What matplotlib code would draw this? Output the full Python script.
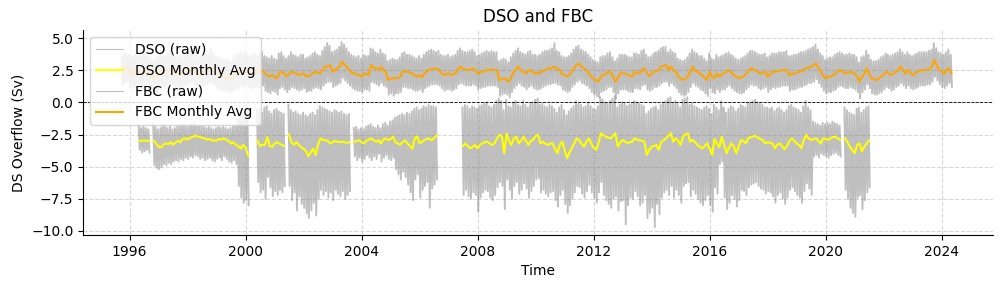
import numpy as np
import pandas as pd
import matplotlib
matplotlib.use('Agg')
import matplotlib.pyplot as plt
import matplotlib.dates as mdates

N = None

# monthly timeline, Oct 1995 .. May 2024
months = pd.date_range('1995-10-01', '2024-05-01', freq='MS')

# FBC monthly average (Sv)
fbc_avg = [
    2.50, 2.70, 2.77,
    2.40, 2.20, 2.30, 2.50, 2.35, 2.25, 2.40, 2.50, 2.20, 2.00, 1.95, 1.90,
    2.20, 2.50, 2.40, 2.25, 2.40, 2.50, 2.45, 2.30, 2.15, 2.20, 2.35, 2.40,
    2.50, 2.65, 2.75, 2.60, 2.30, 2.15, 2.30, 2.50, 2.55, 2.60, 2.70, 2.50,
    2.30, 2.20, 2.10, 2.00, 1.95, 1.90, 1.88, 2.00, 2.20, 2.30, 2.50, 2.40,
    2.50, 2.40, 2.25, 2.30, 2.35, 2.30, 2.40, 2.50, 2.25, 2.10, 2.00, 2.12,
    1.95, 1.87, 2.30, 2.38, 2.25, 2.00, 2.20, 2.38, 2.30, 2.25, 2.12, 2.20,
    2.25, 2.00, 2.05, 2.12, 2.30, 2.38, 2.30, 2.25, 2.50, 2.77, 2.80, 2.90,
    2.38, 2.50, 2.64, 2.77, 3.16, 2.90, 2.77, 2.51, 2.30, 2.25, 2.15, 2.12,
    2.00, 2.25, 2.20, 2.12, 2.90, 2.70, 2.64, 2.51, 2.77, 2.50, 2.38, 1.74,
    1.85, 1.87, 1.90, 1.87, 2.00, 2.38, 2.40, 2.38, 2.30, 2.25, 2.10, 2.00,
    2.12, 1.95, 2.25, 2.40, 2.51, 2.60, 2.64, 2.60, 2.56, 2.30, 2.12, 2.20,
    2.25, 2.12, 2.20, 2.25, 2.60, 2.77, 2.60, 2.56, 2.51, 2.55, 2.64, 2.50,
    2.25, 2.30, 2.38, 2.45, 2.51, 2.56, 2.55, 2.51, 2.50, 1.74, 1.80, 1.87,
    1.75, 1.60, 2.00, 2.38, 2.60, 2.77, 2.50, 2.38, 2.25, 2.45, 2.51, 2.30,
    2.25, 2.25, 2.30, 2.45, 2.51, 2.60, 2.64, 2.70, 2.77, 2.60, 2.51, 2.20,
    2.12, 2.05, 2.10, 2.40, 2.64, 2.90, 3.03, 2.77, 2.64, 2.50, 2.30, 2.00,
    1.80, 1.74, 1.60, 2.00, 2.10, 2.20, 2.35, 2.38, 2.00, 1.60, 1.90, 2.25,
    2.25, 2.25, 2.15, 2.05, 2.00, 2.38, 2.30, 2.25, 2.50, 2.64, 2.25, 2.05,
    2.20, 2.38, 2.45, 2.51, 2.77, 2.85, 2.90, 2.51, 2.77, 2.50, 2.38, 2.00,
    1.87, 1.74, 1.85, 2.00, 2.40, 2.77, 2.50, 2.38, 2.20, 2.12, 1.90, 1.74,
    2.38, 2.00, 1.87, 2.25, 2.00, 2.20, 2.25, 2.40, 2.51, 2.30, 2.12, 2.00,
    1.87, 1.95, 2.00, 2.20, 2.38, 2.64, 2.55, 2.51, 2.35, 2.25, 2.30, 2.38,
    2.00, 2.20, 2.38, 2.38, 2.40, 2.45, 2.51, 2.50, 2.51, 2.12, 2.20, 2.25,
    2.30, 2.38, 2.45, 2.51, 2.64, 2.70, 2.77, 2.90, 3.03, 2.70, 2.38, 2.10,
    1.87, 1.95, 2.00, 2.10, 2.25, 2.40, 2.51, 2.40, 2.25, 2.30, 2.38, 2.30,
    2.25, 2.00, 1.60, 2.00, 2.20, 2.64, 2.25, 1.87, 1.80, 1.74, 1.85, 2.00,
    2.20, 2.38, 2.25, 2.12, 2.25, 2.38, 2.50, 2.77, 2.50, 2.25, 2.51, 2.30,
    2.12, 2.25, 2.38, 2.45, 2.51, 2.50, 2.53, 2.56, 2.77, 3.29, 2.90, 2.51,
    2.40, 2.25, 2.50, 2.64, 2.25,
]

# FBC raw: monthly max and min of the daily record
fbc_hi = [
    3.6, 3.9, 3.8,
    3.7, 3.5, 3.6, 3.9, 3.7, 3.5, 3.8, 3.9, 3.6, 3.4, 3.3, 3.4,
    3.6, 3.9, 3.7, 3.6, 3.8, 4.0, 3.7, 3.6, 3.5, 3.6, 3.7, 3.8,
    3.9, 4.1, 4.2, 3.9, 3.6, 3.5, 3.7, 3.9, 4.0, 3.9, 4.2, 3.8,
    3.6, 3.5, 3.4, 3.3, 3.4, 3.3, 3.2, 3.4, 3.6, 3.7, 3.9, 3.8,
    3.9, 3.7, 3.6, 3.7, 3.8, 3.6, 3.8, 3.9, 3.6, 3.5, 3.4, 3.6,
    3.4, 3.3, 3.8, 3.9, 3.6, 3.4, 3.6, 3.9, 3.7, 3.6, 3.5, 3.7,
    3.7, 3.4, 3.5, 3.6, 3.8, 3.9, 3.7, 3.6, 4.0, 4.3, 4.6, 4.4,
    3.9, 4.0, 4.1, 4.3, 4.7, 4.5, 4.2, 3.9, 3.7, 3.6, 3.5, 3.6,
    3.4, 3.7, 3.6, 3.6, 4.2, 4.1, 3.9, 3.8, 4.1, 3.8, 3.7, 3.2,
    3.3, 3.4, 3.3, 3.3, 3.5, 3.8, 3.9, 3.7, 3.7, 3.6, 3.5, 3.4,
    3.6, 3.4, 3.7, 3.9, 4.0, 4.1, 4.0, 3.9, 4.0, 3.7, 3.6, 3.6,
    3.7, 3.5, 3.6, 3.7, 4.0, 4.2, 4.0, 3.9, 3.9, 4.0, 4.1, 3.9,
    3.6, 3.7, 3.8, 3.9, 4.0, 3.9, 4.0, 3.9, 3.9, 3.2, 3.3, 3.4,
    3.3, 3.1, 3.5, 3.8, 4.0, 4.2, 3.9, 3.8, 3.7, 3.9, 4.0, 3.7,
    3.7, 3.6, 3.7, 3.9, 4.0, 4.0, 4.1, 4.2, 4.6, 4.0, 3.9, 3.6,
    3.5, 3.5, 3.6, 3.8, 4.1, 4.3, 4.4, 4.1, 4.0, 3.9, 3.7, 3.5,
    3.3, 3.2, 3.1, 3.5, 3.6, 3.6, 3.8, 3.9, 3.5, 3.2, 3.4, 3.7,
    3.7, 3.7, 3.6, 3.5, 3.5, 3.8, 3.8, 3.7, 4.0, 4.1, 3.7, 3.5,
    3.6, 3.8, 3.9, 4.0, 4.2, 4.3, 4.3, 3.9, 4.1, 3.9, 3.8, 3.4,
    3.3, 3.2, 3.3, 3.5, 3.8, 4.1, 3.9, 3.8, 3.6, 3.6, 3.4, 3.2,
    3.8, 3.4, 3.3, 3.7, 3.5, 3.6, 3.7, 3.8, 3.9, 3.7, 3.6, 3.4,
    3.3, 3.4, 3.5, 3.6, 3.8, 4.0, 4.0, 3.9, 3.8, 3.7, 3.7, 3.8,
    3.5, 3.6, 3.8, 3.8, 3.8, 3.9, 3.9, 3.9, 4.0, 3.6, 3.6, 3.7,
    3.7, 3.8, 3.9, 3.9, 4.0, 4.1, 4.2, 4.3, 4.5, 4.1, 3.8, 3.6,
    3.3, 3.4, 3.5, 3.5, 3.7, 3.8, 3.9, 3.8, 3.7, 3.7, 3.8, 3.7,
    3.7, 3.5, 3.1, 3.5, 3.6, 4.0, 3.7, 3.3, 3.2, 3.2, 3.3, 3.5,
    3.6, 3.8, 3.7, 3.6, 3.7, 3.8, 3.9, 4.1, 3.9, 3.7, 3.9, 3.7,
    3.6, 3.7, 3.8, 3.9, 3.9, 3.9, 3.9, 4.0, 4.1, 4.6, 4.2, 3.9,
    3.8, 3.7, 3.9, 4.1, 3.7,
]
fbc_lo = [
    1.3, 1.5, 1.6,
    1.2, 1.1, 1.2, 1.4, 1.2, 1.1, 1.3, 1.4, 1.1, 0.9, 0.8, 0.8,
    1.1, 1.3, 1.2, 1.1, 1.2, 1.4, 1.3, 1.2, 1.0, 1.1, 1.2, 1.3,
    1.4, 1.5, 1.6, 1.4, 1.1, 1.0, 1.2, 1.3, 1.4, 1.5, 1.5, 1.3,
    1.1, 1.0, 0.9, 0.9, 0.8, 0.8, 0.7, 0.9, 1.0, 1.1, 1.3, 1.2,
    1.4, 1.2, 1.1, 1.1, 1.2, 1.1, 1.2, 1.3, 0.9, 0.8, 0.7, 0.9,
    0.8, 0.6, 1.1, 1.2, 1.0, 0.8, 1.0, 1.2, 1.1, 1.0, 0.9, 1.0,
    1.1, 0.8, 0.9, 0.9, 1.1, 1.2, 1.1, 1.0, 1.3, 1.5, 1.6, 1.6,
    1.2, 1.3, 1.4, 1.5, 1.9, 1.7, 1.5, 1.3, 1.1, 1.0, 0.9, 0.9,
    0.8, 1.0, 1.0, 0.9, 1.6, 1.5, 1.4, 1.3, 1.5, 1.3, 1.2, 0.6,
    0.7, 0.5, 0.7, 0.7, 0.8, 1.2, 1.2, 1.1, 1.1, 1.0, 0.9, 0.9,
    1.0, 0.8, 1.1, 1.2, 1.3, 1.4, 1.4, 1.4, 1.3, 1.1, 0.9, 1.0,
    1.0, 0.9, 1.0, 1.1, 1.4, 1.5, 1.4, 1.3, 1.3, 1.3, 1.4, 1.3,
    1.0, 1.1, 1.2, 1.2, 1.3, 1.3, 1.3, 1.3, 1.2, 0.5, 0.6, 0.7,
    0.6, 0.4, 0.8, 1.1, 1.3, 1.5, 1.3, 1.2, 1.0, 1.2, 1.3, 1.1,
    1.0, 1.0, 1.1, 1.2, 1.3, 1.4, 1.4, 1.5, 1.5, 1.4, 1.3, 1.0,
    0.9, 0.8, 0.9, 1.2, 1.4, 1.6, 1.7, 1.5, 1.4, 1.3, 1.1, 0.8,
    0.6, 0.5, 0.4, 0.8, 0.9, 1.0, 1.2, 1.2, 0.8, 0.3, 0.7, 1.0,
    1.0, 1.0, 0.9, 0.8, 0.8, 1.1, 1.1, 1.0, 1.3, 1.4, 1.0, 0.9,
    1.0, 1.2, 1.2, 1.3, 1.5, 1.6, 1.6, 1.3, 1.5, 1.3, 1.1, 0.8,
    0.6, 0.5, 0.6, 0.8, 1.2, 1.5, 1.3, 1.2, 1.0, 0.9, 0.7, 0.5,
    1.1, 0.8, 0.7, 1.0, 0.8, 1.0, 1.0, 1.2, 1.3, 1.1, 0.9, 0.8,
    0.7, 0.7, 0.8, 1.0, 1.2, 1.4, 1.3, 1.3, 1.1, 1.0, 1.1, 1.2,
    0.8, 1.0, 1.2, 1.1, 1.2, 1.2, 1.3, 1.3, 1.3, 0.9, 1.0, 1.0,
    1.1, 1.2, 1.2, 1.3, 1.4, 1.5, 1.5, 1.6, 1.8, 1.5, 1.2, 0.9,
    0.7, 0.8, 0.8, 0.9, 1.0, 1.2, 1.3, 1.2, 1.1, 1.1, 1.2, 1.1,
    1.0, 0.8, 0.3, 0.8, 1.0, 1.4, 1.1, 0.7, 0.6, 0.6, 0.7, 0.8,
    1.0, 1.2, 1.1, 0.9, 1.0, 1.2, 1.3, 1.5, 1.3, 1.1, 1.3, 1.1,
    1.0, 1.1, 1.2, 1.3, 1.3, 1.3, 1.4, 1.4, 1.6, 2.0, 1.7, 1.4,
    1.2, 1.1, 1.3, 1.5, 1.2,
]

# DSO monthly average (Sv), None = no data
dso_avg = [
    N, N, N,
    N, N, N, N, -3.00, -3.00, -2.95, -3.00, -3.00, N, -3.00, -3.20,
    -3.45, -3.50, -3.30, -3.20, -3.25, -3.10, -3.30, -3.10, -3.00, -3.10, -2.85, -2.80,
    -2.90, -2.75, -2.70, -2.60, -2.65, -2.70, -2.75, -2.80, -2.90, -2.85, -2.95, -3.00,
    -2.95, -2.85, -2.90, -2.80, -2.90, -3.00, -3.20, -3.10, -3.30, -3.40, -3.60, -3.30,
    -3.50, -4.15, N, N, N, -3.00, -3.40, -3.30, -3.30, -2.70, -3.40, -3.45,
    -3.20, -3.10, -3.20, -3.30, -3.40, N, -2.50, -3.10, -3.30, -3.10, -3.30, -3.50,
    -3.60, -3.80, -4.20, -3.90, -3.60, -4.10, -3.30, -2.80, -2.90, -2.95, -3.00, -3.20,
    -3.10, -3.00, -3.05, -3.10, -3.06, -3.10, -3.15, -3.10, N, -3.06, -3.00, -2.95,
    -3.10, -3.20, -3.00, -2.90, -2.80, -2.95, -3.06, -2.95, -3.20, -2.90, -2.80, -2.95,
    -2.85, -2.67, -3.10, -3.20, -3.30, -3.10, -2.95, -3.20, -3.40, -3.60, -2.80, -2.65,
    -3.20, -3.06, -2.95, -2.85, -2.80, -2.95, -2.80, -2.60, N, N, N, N,
    N, N, N, N, N, N, -3.40, -3.20, -3.40, -3.58, -3.45, -3.32,
    -3.58, -3.30, -3.19, -3.10, -3.06, -3.20, -3.32, -3.19, -2.80, -2.54, -2.62, -3.96,
    -2.41, -3.00, -3.32, -2.80, -2.67, -3.19, -3.00, -2.67, -3.00, -3.32, -3.00, -2.93,
    -2.60, -2.54, -3.19, -3.06, -3.20, -3.32, -3.20, -3.19, -3.58, -3.96, -3.30, -3.06,
    -3.70, -4.35, -3.90, -3.58, -3.20, -2.80, -2.93, -3.20, -3.45, -3.10, -2.80, -3.20,
    -3.50, -3.70, -3.19, -2.41, -2.55, -2.67, -2.75, -2.80, -2.60, -2.41, -3.45, -3.10,
    -2.93, -3.05, -3.19, -3.10, -3.06, -2.80, -2.90, -2.93, -3.00, -3.06, -4.09, -3.70,
    -3.45, -3.40, -3.32, -3.70, -3.06, -2.95, -2.80, -2.60, -2.41, -3.06, -2.80, -3.00,
    -3.32, -2.67, -2.50, -2.41, -3.06, -2.93, -3.10, -3.32, -3.45, -3.58, -3.40, -3.19,
    -3.60, -4.09, -2.85, -3.20, -3.50, -2.67, -3.30, -3.96, -3.50, -3.19, -3.45, -3.96,
    -3.40, -2.93, -3.00, -3.19, -2.80, -2.70, -2.65, -2.62, -2.75, -2.85, -2.93, -3.19,
    -3.10, -3.15, -3.19, -3.58, -3.30, -3.19, -3.40, -3.65, -3.40, -3.00, -2.80, -3.00,
    -3.20, -3.32, -3.58, -2.90, -2.54, -2.80, -2.93, -2.85, -2.80, -3.00, -3.19, -2.80,
    -2.85, -2.93, -2.80, -2.70, -2.67, -2.80, -2.93, N, -2.80, -3.10, -3.45, -3.70,
    -3.96, -3.30, -3.19, -3.83, -3.45, -3.19, -2.95, N, N, N, N, N,
] + [N] * 29

# DSO raw: monthly max (closest to zero) and min
dso_hi = [
    N, N, N,
    N, N, N, N, -1.8, -2.0, -1.9, -2.0, -2.1, N, -1.7, -1.9,
    -2.1, -2.0, -1.8, -1.9, -2.0, -1.9, -2.1, -2.0, -1.8, -1.9, -1.7, -1.8,
    -1.9, -1.8, -1.7, -1.6, -1.8, -1.9, -1.8, -1.9, -2.0, -1.9, -2.0, -2.1,
    -2.0, -1.9, -2.0, -1.9, -2.0, -2.1, -2.0, -1.9, -1.8, -1.3, -0.9, -0.8,
    -0.7, -1.0, N, N, N, -0.6, -0.5, -0.8, -0.4, -0.3, -0.7, -0.9,
    -0.6, -0.5, -0.7, -0.8, -0.9, N, -0.2, -0.6, -0.8, -0.7, -0.9, -1.0,
    -0.8, -1.0, -1.1, -0.9, -0.8, -1.0, -0.6, -0.3, -0.4, -0.5, -0.6, -0.7,
    -0.8, -0.6, -0.7, -0.8, -0.7, -0.9, -1.0, -0.9, N, -2.0, -1.9, -2.1,
    -2.0, -2.1, -1.9, -1.8, -1.7, -1.9, -2.0, -1.8, -2.0, -1.7, -1.6, -1.8,
    -1.5, -1.4, -1.2, -1.1, -1.0, -0.9, -1.0, -0.8, -0.9, -0.7, -0.5, -0.4,
    -0.6, -0.5, -0.3, -0.4, -0.2, -0.3, -0.3, -0.4, N, N, N, N,
    N, N, N, N, N, N, -0.4, -0.2, -0.3, -0.5, -0.3, -0.4,
    -0.5, -0.3, -0.2, -0.1, 0.0, -0.3, -0.4, -0.2, 0.1, 0.3, 0.1, -0.6,
    0.2, -0.3, -0.4, 0.0, 0.1, -0.2, -0.3, 0.1, -0.2, -0.4, -0.1, 0.0,
    0.2, 0.3, -0.2, -0.1, -0.3, -0.4, -0.2, -0.3, -0.5, -0.8, -0.4, -0.2,
    -0.6, -1.0, -0.7, -0.5, -0.3, 0.1, -0.1, -0.2, -0.4, -0.3, 0.0, -0.3,
    -0.5, -0.6, -0.3, 0.4, 0.2, 0.0, -0.1, 0.1, 0.3, 0.5, -0.4, -0.2,
    0.0, -0.1, -0.3, -0.2, -0.1, 0.1, 0.0, -0.1, -0.2, -0.3, -0.9, -0.7,
    -0.5, -0.4, -0.3, -0.6, -0.2, 0.0, 0.1, 0.3, 0.4, -0.1, 0.1, -0.1,
    -0.4, 0.2, 0.3, 0.4, -0.2, -0.1, -0.3, -0.4, -0.5, -0.6, -0.4, -0.3,
    -0.5, -0.9, -0.2, -0.4, -0.6, 0.1, -0.4, -0.8, -0.5, -0.3, -0.4, -0.7,
    -0.5, -0.2, -0.3, -0.4, -0.1, 0.0, 0.1, 0.2, 0.0, -0.1, -0.2, -0.4,
    -0.4, -0.5, -0.4, -0.7, -0.5, -0.4, -0.6, -0.8, -0.6, -0.3, -0.2, -0.4,
    -0.5, -0.6, -0.8, -0.3, 0.1, -0.4, -0.6, -1.5, -1.6, -1.7, -1.8, -1.6,
    -1.7, -1.6, -1.7, -1.5, -1.6, -1.7, -1.8, N, -0.4, -0.6, -0.8, -0.9,
    -1.0, -0.5, -0.4, -0.8, -0.6, -0.4, -0.3, N, N, N, N, N,
] + [N] * 29
dso_lo = [
    N, N, N,
    N, N, N, N, -3.7, -3.9, -3.8, -3.7, -3.9, N, -4.9, -5.1,
    -5.2, -5.0, -4.8, -4.9, -4.7, -4.8, -4.6, -4.5, -4.6, -4.4, -4.5, -4.3,
    -4.4, -4.2, -4.3, -4.1, -4.2, -4.4, -4.3, -4.5, -4.4, -4.3, -4.5, -4.6,
    -4.4, -4.3, -4.5, -4.2, -4.4, -4.6, -4.7, -4.5, -4.8, -6.5, -7.4, -7.8,
    -7.6, -8.0, N, N, N, -6.2, -7.0, -6.8, -7.5, -5.8, -6.6, -7.3,
    -6.9, -7.2, -6.8, -7.0, -6.5, N, -6.5, -7.6, -7.0, -8.4, -7.3, -7.9,
    -8.2, -8.6, -9.0, -8.4, -7.8, -8.8, -7.5, -6.8, -7.2, -6.9, -7.4, -7.0,
    -7.6, -6.8, -7.1, -7.3, -6.9, -7.5, -7.2, -6.9, N, -4.2, -4.5, -4.3,
    -4.6, -4.4, -4.1, -4.3, -4.5, -4.2, -4.4, -4.0, -4.6, -4.3, -4.1, -4.4,
    -4.5, -4.3, -5.2, -5.6, -6.0, -5.4, -5.8, -6.4, -7.0, -7.6, -6.0, -5.6,
    -7.4, -6.8, -6.5, -6.2, -8.2, -6.7, -6.4, -6.0, N, N, N, N,
    N, N, N, N, N, N, -7.2, -6.8, -7.3, -7.5, -7.0, -7.2,
    -8.5, -7.4, -7.0, -6.8, -6.9, -7.4, -7.6, -7.2, -6.6, -6.2, -6.5, -8.3,
    -6.0, -6.8, -7.5, -6.5, -6.2, -7.1, -6.8, -6.3, -6.7, -7.4, -6.9, -6.5,
    -6.0, -5.9, -7.0, -6.8, -7.1, -7.3, -7.0, -6.9, -7.6, -8.1, -7.2, -6.8,
    -7.9, -8.6, -8.0, -7.5, -7.0, -6.5, -6.6, -7.1, -7.4, -6.9, -6.4, -7.0,
    -7.4, -7.8, -7.0, -6.2, -7.2, -7.6, -7.9, -8.2, -7.5, -7.3, -8.4, -7.7,
    -7.6, -9.5, -8.0, -7.4, -7.5, -6.9, -7.3, -8.0, -7.8, -7.2, -9.0, -8.6,
    -8.2, -9.7, -7.9, -8.7, -7.4, -7.0, -6.8, -7.2, -6.5, -7.4, -6.8, -7.2,
    -7.8, -6.5, -6.3, -6.2, -7.3, -6.8, -7.1, -7.5, -7.8, -8.0, -7.6, -7.2,
    -8.0, -8.5, -6.6, -7.1, -4.8, -4.6, -7.4, -8.3, -7.8, -7.2, -7.5, -8.1,
    -7.6, -6.8, -6.9, -7.2, -6.6, -6.4, -6.3, -6.2, -6.5, -6.7, -6.8, -7.1,
    -6.9, -7.0, -7.3, -7.8, -7.2, -7.0, -7.5, -7.9, -7.4, -6.8, -6.6, -6.9,
    -7.2, -7.4, -7.8, -6.9, -6.3, -6.7, -7.2, -4.2, -4.1, -4.3, -4.0, -4.1,
    -4.2, -4.3, -4.1, -4.0, -3.9, -4.1, -4.2, N, -6.8, -7.5, -8.2, -8.6,
    -8.9, -7.4, -7.2, -8.3, -7.6, -7.0, -6.6, N, N, N, N, N,
] + [N] * 29


def raw_trace(hi, lo):
    # alternate monthly max/min so the raw record reads as a dense band
    hi = np.array(hi, dtype=float)
    lo = np.array(lo, dtype=float)
    t = np.empty(2 * len(months), dtype='datetime64[ns]')
    t[0::2] = (months - pd.Timedelta(days=7)).values
    t[1::2] = (months + pd.Timedelta(days=8)).values
    y = np.empty(2 * len(months))
    y[0::2] = hi
    y[1::2] = lo
    return t, y


fig, ax = plt.subplots(figsize=(10.02, 2.89), dpi=100)
fig.subplots_adjust(left=0.083, right=0.991, bottom=0.187, top=0.896)

t, y = raw_trace(dso_hi, dso_lo)
ax.plot(t, y, color='gray', alpha=0.5, linewidth=1.4, label='DSO (raw)')
ax.plot(months, np.array(dso_avg, dtype=float), color='yellow', linewidth=1.5,
        label='DSO Monthly Avg')
t, y = raw_trace(fbc_hi, fbc_lo)
ax.plot(t, y, color='gray', alpha=0.5, linewidth=1.4, label='FBC (raw)')
ax.plot(months, np.array(fbc_avg, dtype=float), color='orange', linewidth=1.5,
        label='FBC Monthly Avg')

ax.axhline(0, color='black', linestyle='--', linewidth=0.6)

ax.set_xlim(pd.Timestamp('1994-05-27'), pd.Timestamp('2025-10-08'))
ax.set_ylim(-10.31, 5.62)
ax.xaxis.set_major_locator(mdates.YearLocator(4))
ax.xaxis.set_major_formatter(mdates.DateFormatter('%Y'))

ax.set_title('DSO and FBC')
ax.set_xlabel('Time')
ax.set_ylabel('DS Overflow (Sv)')
ax.grid(True, linestyle='--', alpha=0.5)
ax.spines['top'].set_visible(False)
ax.spines['right'].set_visible(False)
leg = ax.legend(loc='upper left')
for h in leg.get_lines():
    if h.get_color() == 'gray':
        h.set_linewidth(0.8)

fig.savefig('out.png', dpi=100)
